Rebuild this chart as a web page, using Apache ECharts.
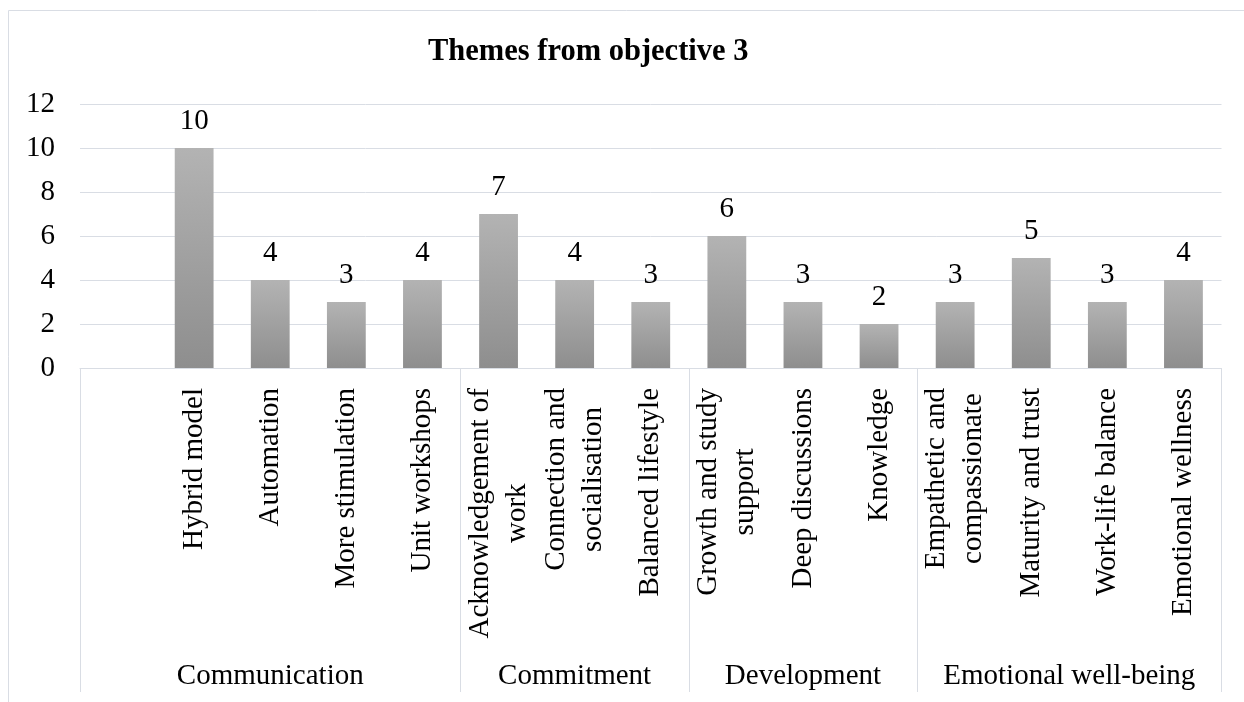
<!DOCTYPE html>
<html>
<head>
<meta charset="utf-8">
<script src="https://cdn.jsdelivr.net/npm/echarts@6/dist/echarts.min.js"></script>
<style>
  html, body { margin: 0; padding: 0; background: #fff; }
  #chart { width: 1244px; height: 702px; }
</style>
</head>
<body>
<div id="chart"></div>
<script>
// Theme categories (first slot left blank inside the Communication group)
const categories = [
  '', 'Hybrid model', 'Automation', 'More stimulation', 'Unit workshops',
  'Acknowledgement of\nwork', 'Connection and\nsocialisation', 'Balanced lifestyle',
  'Growth and study\nsupport', 'Deep discussions', 'Knowledge',
  'Empathetic and\ncompassionate', 'Maturity and trust', 'Work-life balance', 'Emotional wellness'
];
const counts = ['-', 10, 4, 3, 4, 7, 4, 3, 6, 3, 2, 3, 5, 3, 4];

// Outer grouping of the categories
const groups = ['Communication', 'Commitment', 'Development', 'Emotional well-being'];
const groupSizes = [5, 3, 3, 4];

const yTicks = [0, 2, 4, 6, 8, 10, 12];

// Group boundaries and centres in category units
const groupEdges = [0];
groupSizes.forEach(s => groupEdges.push(groupEdges[groupEdges.length - 1] + s));
const groupCentres = groups.map((g, i) => (groupEdges[i] + groupEdges[i + 1]) / 2);

const FONT = '"Liberation Serif", "Times New Roman", serif';
const FS = 29;
const LINE = '#d9dde4';

const chart = echarts.init(document.getElementById('chart'), null, { renderer: 'canvas' });

chart.setOption({
  animation: false,
  title: {
    text: 'Themes from objective 3',
    left: 423,
    top: 30,
    textStyle: { fontFamily: FONT, fontSize: 30.5, fontWeight: 'bold', color: '#000', lineHeight: 34 }
  },
  graphic: [{
    type: 'rect',
    shape: { x: 8.5, y: 10.5, width: 1400, height: 900 },
    style: { fill: 'none', stroke: LINE, lineWidth: 1 },
    silent: true
  }],
  grid: { left: 80, right: 22.5, top: 104, bottom: 334, containLabel: false },
  xAxis: [{
    type: 'category',
    data: categories,
    position: 'bottom',
    axisLine: { show: true, lineStyle: { color: LINE, width: 1 } },
    axisTick: { show: false },
    axisLabel: {
      interval: 0,
      rotate: 90,
      margin: 20,
      fontFamily: FONT,
      fontSize: FS,
      lineHeight: 37,
      color: '#000',
      formatter: v => v ? v.split('\n').map(s => '{c|' + s + '}').join('\n') : '',
      rich: { c: { align: 'center', fontFamily: FONT, fontSize: FS, lineHeight: 37, color: '#000' } }
    },
    splitLine: { show: false }
  }, {
    type: 'value',
    position: 'bottom',
    min: 0,
    max: categories.length,
    axisLine: { show: false },
    axisTick: {
      show: true,
      customValues: groupEdges,
      length: 324,
      lineStyle: { color: LINE, width: 1 }
    },
    axisLabel: {
      show: true,
      customValues: groupCentres,
      margin: 292,
      fontFamily: FONT,
      fontSize: FS,
      lineHeight: 33,
      color: '#000',
      formatter: v => {
        const i = groupCentres.indexOf(v);
        return i >= 0 ? groups[i] : '';
      }
    },
    splitLine: { show: false }
  }],
  yAxis: {
    type: 'value',
    min: yTicks[0],
    max: yTicks[yTicks.length - 1],
    interval: yTicks[1] - yTicks[0],
    axisLine: { show: false },
    axisTick: { show: false },
    axisLabel: { margin: 25, fontFamily: FONT, fontSize: FS, color: '#000' },
    splitLine: { show: true, lineStyle: { color: LINE, width: 1 } }
  },
  series: [{
    type: 'bar',
    xAxisIndex: 0,
    data: counts,
    barWidth: '51%',
    itemStyle: {
      color: new echarts.graphic.LinearGradient(0, 0, 0, 1, [
        { offset: 0, color: '#b3b3b3' },
        { offset: 1, color: '#8e8e8e' }
      ])
    },
    label: {
      show: true,
      position: 'top',
      distance: 10,
      fontFamily: FONT,
      fontSize: FS,
      lineHeight: 33,
      color: '#000'
    }
  }]
});
</script>
</body>
</html>
